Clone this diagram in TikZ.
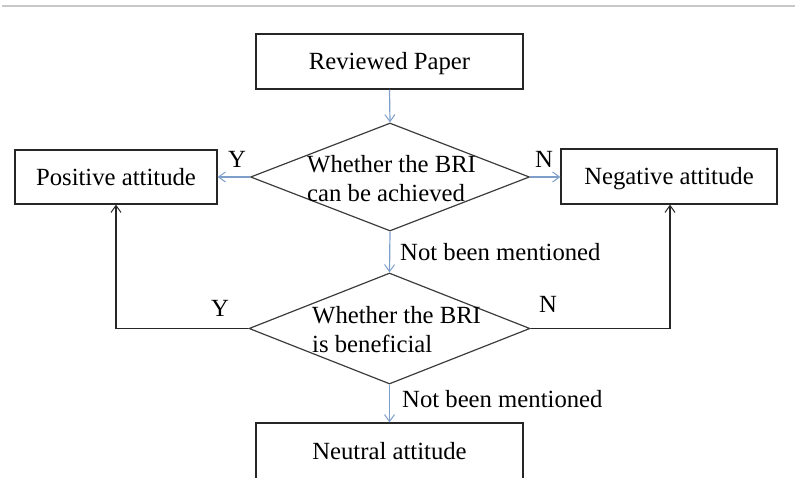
\documentclass[tikz,border=0pt]{standalone}
\usepackage{fontspec}
\setmainfont{Liberation Serif}
\usetikzlibrary{shapes.geometric,arrows.meta}
\definecolor{flowblue}{HTML}{7F9FCB}
\definecolor{edgegray}{HTML}{3C3C3C}
\definecolor{rulegray}{HTML}{C8C8C8}
\tikzset{
  box/.style={draw=black!85, line width=1.2pt, rectangle, inner sep=0pt,
    text height=16.9pt, text depth=0pt},
  decision/.style={draw=edgegray, line width=1.2pt, diamond, inner sep=0pt},
  dtext/.style={align=left, inner sep=0pt, anchor=north west},
  lbl/.style={inner sep=0pt, anchor=base west},
  bluearrow/.style={draw=flowblue, line width=1.2pt, -{Straight Barb[length=7pt,width=10pt,line width=1pt]}},
  blackarrow/.style={draw=black!85, line width=1.2pt, -{Straight Barb[length=7pt,width=10pt,line width=1pt]}}
}
\begin{document}
\begin{tikzpicture}[x=1pt,y=-1pt, font=\fontsize{24.7}{29.5}\selectfont]
\useasboundingbox (0,0) rectangle (795,477);
\clip (0,0) rectangle (795,477);
\coordinate (rl) at (2,6);
\coordinate (rr) at (795,6);
\draw[rulegray, line width=1.5pt] (rl) -- (rr);

\node[box, minimum width=267pt, minimum height=55pt] (rp) at (389.5,61.5) {Reviewed Paper};
\node[decision, minimum width=279pt, minimum height=108pt] (d1) at (390,177) {};
\node[box, minimum width=202pt, minimum height=54pt] (pos) at (116,177) {Positive attitude};
\node[box, minimum width=216pt, minimum height=55pt] (neg) at (669,176.5) {Negative attitude};
\node[decision, minimum width=281pt, minimum height=111pt] (d2) at (389.5,328.5) {};
\node[box, minimum width=267pt, minimum height=57pt] (neu) at (389.5,451.5) {Neutral attitude};

\node[dtext] (d1t) at (307,155.1) {Whether the BRI\\can be achieved};
\node[dtext] (d2t) at (312,306.1) {Whether the BRI\\is beneficial};

\draw[bluearrow] (rp.south) -- (d1.north);
\draw[bluearrow] (d1.west) -- (pos.east |- d1.west);
\draw[bluearrow] (d1.east) -- (neg.west |- d1.east);
\draw[bluearrow] (d1.south) -- (d2.north);
\draw[bluearrow] (d2.south) -- (neu.north);
\draw[blackarrow] (d2.west) -- (pos.south |- d2.west) -- (pos.south);
\draw[blackarrow] (d2.east) -- ([xshift=1pt]neg.south |- d2.east) -- ([xshift=1pt]neg.south);

\node[lbl] (y1) at (228,167) {Y};
\node[lbl] (n1) at (535,167) {N};
\node[lbl] (y2) at (211,316) {Y};
\node[lbl] (n2) at (539,312) {N};
\node[lbl] (m1) at (400,260) {Not been mentioned};
\node[lbl] (m2) at (402,407) {Not been mentioned};
\end{tikzpicture}
\end{document}
